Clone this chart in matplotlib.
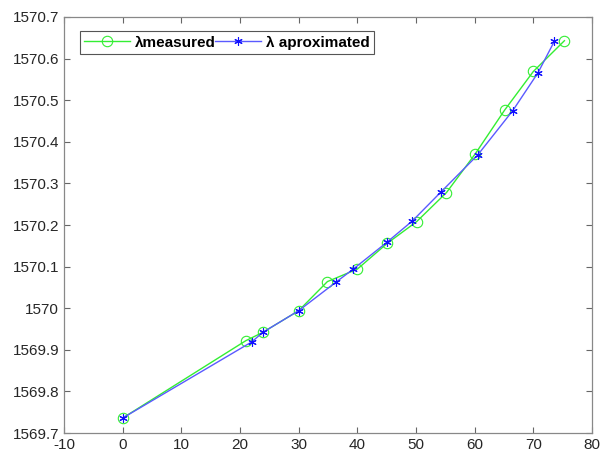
import numpy as np
import matplotlib
matplotlib.use('Agg')
import matplotlib.pyplot as plt

# measured wavelength
x_meas = [0, 21.0, 23.9, 30.0, 34.9, 40.0, 45.1, 50.1, 55.2, 60.1, 65.1, 70.0, 75.3]
y_meas = [1569.736, 1569.922, 1569.942, 1569.994, 1570.064, 1570.094, 1570.156,
          1570.208, 1570.278, 1570.371, 1570.476, 1570.569, 1570.643]

# approximated wavelength
x_appr = [0, 22.0, 23.9, 30.0, 36.3, 39.3, 45.0, 49.4, 54.3, 60.5, 66.5, 70.8, 73.6]
y_appr = [1569.736, 1569.919, 1569.942, 1569.994, 1570.062, 1570.094, 1570.158,
          1570.210, 1570.280, 1570.368, 1570.475, 1570.566, 1570.642]

xticks = np.arange(-10, 81, 10)
yticks = np.round(np.arange(1569.7, 1570.71, 0.1), 1)

plt.rcParams['font.family'] = ['Liberation Sans', 'DejaVu Sans']

fig = plt.figure(figsize=(6.01, 4.59), dpi=100)
ax = fig.add_axes([0.1065, 0.0566, 0.8785, 0.9064])

asterisk = (6, 2, 0)
ax.plot(x_meas, y_meas, color='#33ee33', lw=1.0, marker='o', ms=7.5,
        mfc='none', mec='#33ee33', mew=0.8, label='λmeasured')
ax.plot(x_appr, y_appr, color='#5a5aff', lw=1.0, marker=asterisk, ms=6,
        mec='#1010ff', mew=0.8, label='λ aproximated')

ax.set_xlim(-10, 80)
ax.set_ylim(1569.7, 1570.7)
ax.set_xticks(xticks)
ax.set_yticks(yticks)
ax.set_xticklabels([str(t) for t in xticks])
ax.set_yticklabels(['%g' % t for t in yticks])
ax.tick_params(direction='in', top=True, right=True, length=4, width=0.8,
               colors='#666666', labelcolor='#262626', labelsize=11)
for s in ax.spines.values():
    s.set_color('#888888')
    s.set_linewidth(0.9)

leg = ax.legend(loc='upper left', ncol=2, bbox_to_anchor=(0.015, 0.985),
                prop={'weight': 'bold', 'size': 11}, handlelength=3.0,
                handletextpad=0.3, columnspacing=0.0, borderpad=0.3,
                fancybox=False, framealpha=1, edgecolor='#555555')
leg.get_frame().set_linewidth(0.8)

fig.savefig('out.png', dpi=100)
